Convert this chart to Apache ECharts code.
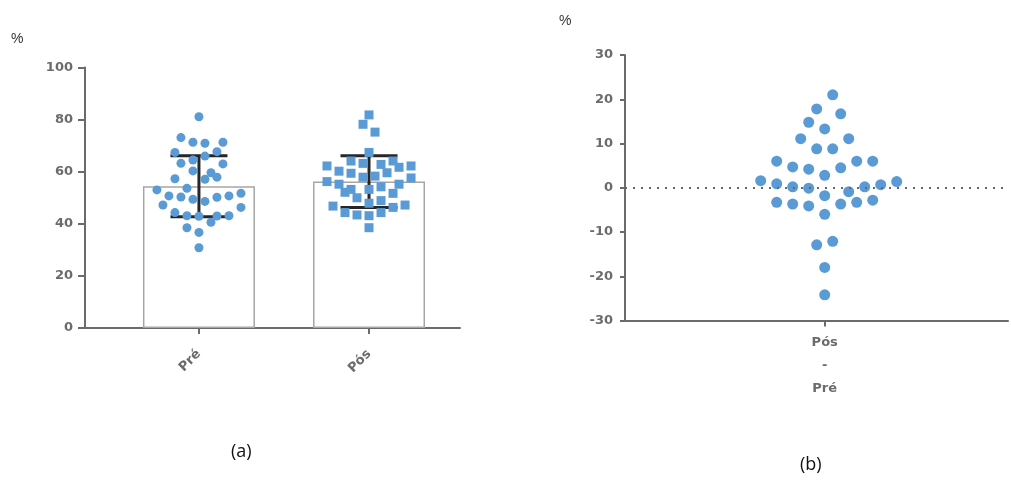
<!DOCTYPE html>
<html>
<head>
<meta charset="utf-8">
<script src="https://cdn.jsdelivr.net/npm/echarts@6/dist/echarts.min.js"></script>
<style>
html,body{margin:0;padding:0;background:#fff;}
#chart{width:1011px;height:482px;}
</style>
</head>
<body>
<div id="chart"></div>
<script>
// ---------- data ----------
const groupNames = ['Pré', 'Pós'];
const diffName = 'Pós\n-\nPré';
const leftTicks = [0, 20, 40, 60, 80, 100];
const rightTicks = [-30, -20, -10, 0, 10, 20, 30];

const preValues = [81.1, 73.1, 71.3, 70.9, 71.3, 67.4, 67.7, 64.5, 66.0, 63.2, 63.0, 60.3, 59.6, 57.1, 57.9, 57.3, 53.6, 53.0, 50.7, 50.3, 49.4, 48.6, 50.2, 50.7, 51.7, 47.2, 46.3, 44.3, 43.1, 42.9, 43.0, 43.1, 40.6, 38.5, 36.7, 30.8];
const preSlots  = [0, -3, -1, 1, 4, -4, 3, -1, 1, -3, 4, -1, 2, 1, 3, -4, -2, -7, -5, -3, -1, 1, 3, 5, 7, -6, 7, -4, -2, 0, 3, 5, 2, -2, 0, 0];

const posValues = [81.8, 78.2, 75.2, 67.4, 62.2, 64.1, 63.2, 62.8, 64.1, 61.7, 62.2, 60.2, 59.4, 59.6, 57.9, 58.3, 57.6, 56.2, 55.2, 52.1, 53.2, 53.2, 54.2, 55.2, 51.7, 50.0, 48.9, 47.9, 46.8, 47.2, 46.3, 44.3, 43.4, 43.1, 44.3, 38.5];
const posSlots  = [0, -1, 1, 0, -7, -3, -1, 2, 4, 5, 7, -5, -3, 3, -1, 1, 7, -7, -5, -4, -3, 0, 2, 5, 4, -2, 2, 0, -6, 6, 4, -4, -2, 0, 2, 0];

const means = [54.4, 56.2];
const sds = [11.7, 9.9];

const diffValues = [21.0, 17.8, 16.7, 14.8, 13.3, 11.1, 11.1, 8.8, 8.8, 6.0, 4.7, 4.2, 2.8, 4.5, 6.0, 6.0, 1.6, 0.9, 0.2, -0.1, -1.8, -0.9, 0.2, 0.7, 1.4, -3.3, -3.7, -4.1, -6.0, -3.7, -3.3, -2.8, -12.9, -12.1, -18.0, -24.2];
const diffSlots  = [1, -1, 2, -2, 0, -3, 3, -1, 1, -6, -4, -2, 0, 2, 4, 6, -8, -6, -4, -2, 0, 3, 5, 7, 9, -6, -4, -2, 0, 2, 4, 6, -1, 1, 0, 0];

// ---------- styling constants ----------
const BLUE = '#5B9BD5';
const AXIS = '#6b6b6b';
const SLOT_L = 6 / 170;   // jitter step in left-axis units
const FONT = 'DejaVu Sans';

const chart = echarts.init(document.getElementById('chart'));

const axisLabelStyle = {color: AXIS, fontFamily: FONT, fontWeight: 'bold', fontSize: 13};

const option = {
  animation: false,
  grid: [
    {left: 85, top: 67.5, width: 375, height: 260.5},
    {left: 625, top: 55, width: 383, height: 265.5}
  ],
  xAxis: [
    {
      gridIndex: 0, type: 'value', min: 0.33, max: 2.535,
      splitLine: {show: false},
      axisLine: {show: true, onZero: false, lineStyle: {color: AXIS, width: 2}},
      axisTick: {show: true, customValues: [1, 2], length: 6, lineStyle: {color: AXIS, width: 2}},
      axisLabel: Object.assign({}, axisLabelStyle, {
        customValues: [1, 2], rotate: 45, margin: 24,
        formatter: v => groupNames[Math.round(v) - 1]
      })
    },
    {
      gridIndex: 1, type: 'value', min: -24.96, max: 22.91,
      splitLine: {show: false},
      axisLine: {show: true, onZero: false, lineStyle: {color: AXIS, width: 2}},
      axisTick: {show: true, customValues: [0], length: 6, lineStyle: {color: AXIS, width: 2}},
      axisLabel: Object.assign({}, axisLabelStyle, {
        customValues: [0], margin: 11, lineHeight: 23,
        formatter: () => diffName
      })
    }
  ],
  yAxis: [
    {
      gridIndex: 0, type: 'value', min: 0, max: 100, interval: 20,
      splitLine: {show: false},
      axisLine: {show: true, lineStyle: {color: AXIS, width: 2}},
      axisTick: {show: true, length: 7, lineStyle: {color: AXIS, width: 2}},
      axisLabel: Object.assign({}, axisLabelStyle, {margin: 12})
    },
    {
      gridIndex: 1, type: 'value', min: -30, max: 30, interval: 10,
      splitLine: {show: false},
      axisLine: {show: true, onZero: false, lineStyle: {color: AXIS, width: 2}},
      axisTick: {show: true, length: 5, lineStyle: {color: AXIS, width: 2}},
      axisLabel: Object.assign({}, axisLabelStyle, {margin: 12})
    }
  ],
  series: [
    {
      type: 'bar', xAxisIndex: 0, yAxisIndex: 0, barWidth: 112, z: 1,
      data: means.map((m, i) => [i + 1, m]),
      itemStyle: {color: '#ffffff', borderColor: '#a6a6a6', borderWidth: 1.5}
    },
    {
      type: 'custom', xAxisIndex: 0, yAxisIndex: 0, z: 2,
      data: means.map((m, i) => [i + 1, m - sds[i], m + sds[i]]),
      renderItem: function (params, api) {
        const x = api.value(0);
        const lo = api.coord([x, api.value(1)]);
        const hi = api.coord([x, api.value(2)]);
        const hw = 28.5;
        const st = {stroke: '#262626', lineWidth: 3};
        return {type: 'group', children: [
          {type: 'line', shape: {x1: lo[0], y1: lo[1], x2: hi[0], y2: hi[1]}, style: st},
          {type: 'line', shape: {x1: lo[0] - hw, y1: lo[1], x2: lo[0] + hw, y2: lo[1]}, style: st},
          {type: 'line', shape: {x1: hi[0] - hw, y1: hi[1], x2: hi[0] + hw, y2: hi[1]}, style: st}
        ]};
      }
    },
    {
      type: 'scatter', xAxisIndex: 0, yAxisIndex: 0, z: 3,
      symbol: 'circle', symbolSize: 9,
      itemStyle: {color: BLUE, opacity: 1},
      data: preValues.map((v, i) => [1 + preSlots[i] * SLOT_L, v])
    },
    {
      type: 'scatter', xAxisIndex: 0, yAxisIndex: 0, z: 3,
      symbol: 'rect', symbolSize: 9,
      itemStyle: {color: BLUE, opacity: 1},
      data: posValues.map((v, i) => [2 + posSlots[i] * SLOT_L, v])
    },
    {
      type: 'scatter', xAxisIndex: 1, yAxisIndex: 1, z: 3,
      symbol: 'circle', symbolSize: 11,
      itemStyle: {color: BLUE, opacity: 1},
      data: diffValues.map((v, i) => [diffSlots[i], v]),
      markLine: {
        silent: true, symbol: 'none', label: {show: false},
        lineStyle: {color: '#666', width: 2, type: [2, 6]},
        data: [{yAxis: 0}]
      }
    }
  ],
  graphic: [
    {type: 'text', left: 11, top: 32, style: {text: '%', fontFamily: 'Liberation Sans', fontSize: 14, fill: '#333'}},
    {type: 'text', left: 559, top: 14, style: {text: '%', fontFamily: 'Liberation Sans', fontSize: 14, fill: '#333'}},
    {type: 'text', left: 231, top: 443, style: {text: '(a)', fontFamily: 'Open Sans', fontSize: 18, fill: '#111'}},
    {type: 'text', left: 800, top: 456, style: {text: '(b)', fontFamily: 'Open Sans', fontSize: 18, fill: '#111'}}
  ]
};
chart.setOption(option);
</script>
</body>
</html>
